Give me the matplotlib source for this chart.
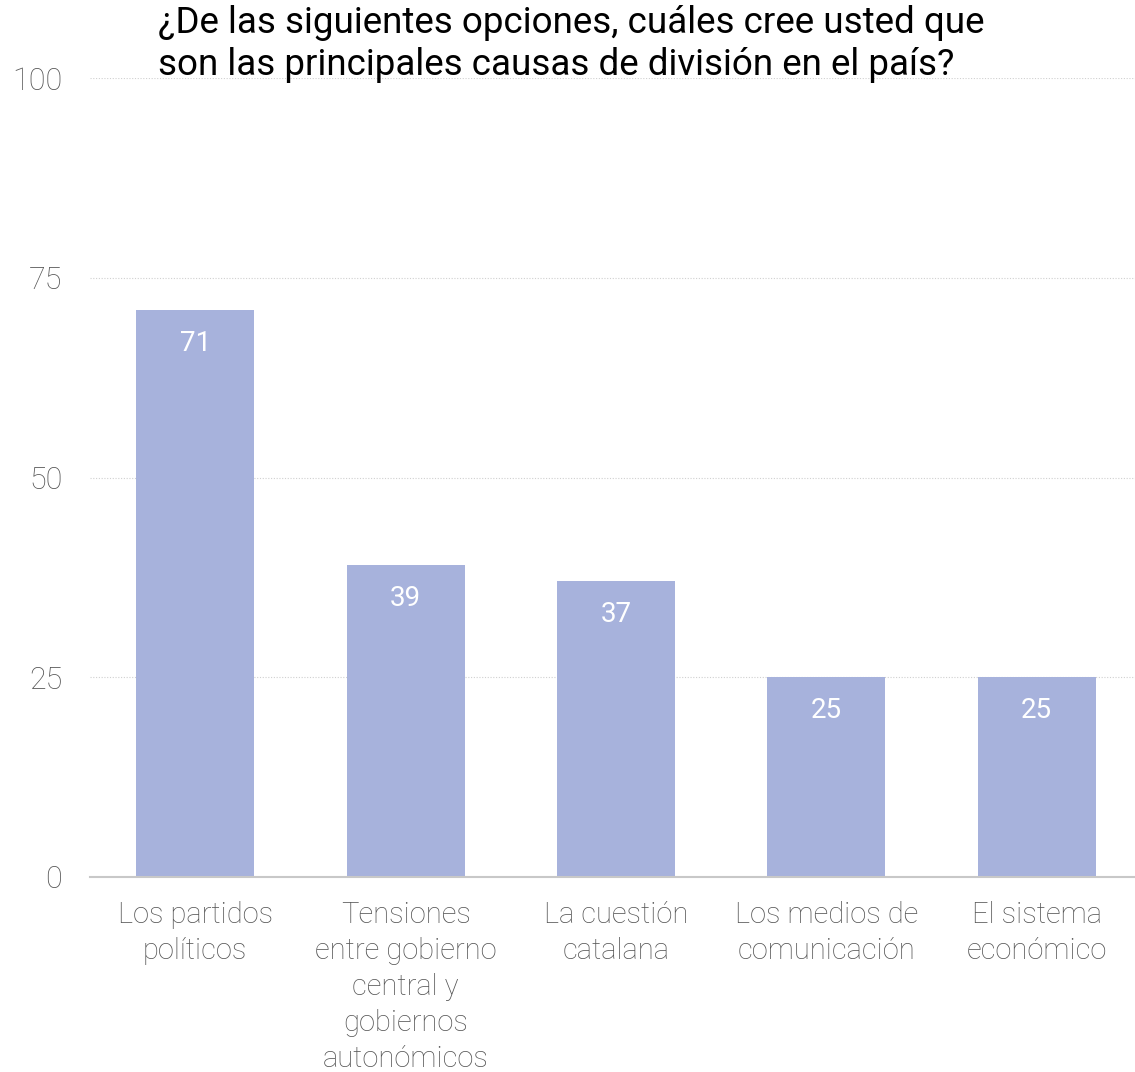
import matplotlib.pyplot as plt

# data
categories = ['Los partidos\npolíticos',
              'Tensiones\nentre gobierno\ncentral y\ngobiernos\nautonómicos',
              'La cuestión\ncatalana',
              'Los medios de\ncomunicación',
              'El sistema\neconómico']
values = [71, 39, 37, 25, 25]
yticks = [0, 25, 50, 75, 100]
title = '¿De las siguientes opciones, cuáles cree usted que\nson las principales causas de división en el país?'

BAR_COLOR = '#a7b2dc'
TEXT_GRAY = '#555555'

plt.rcParams['font.family'] = ['Roboto', 'DejaVu Sans']

fig = plt.figure(figsize=(11.35, 10.72), dpi=100)
ax = fig.add_axes([90 / 1135, 195 / 1072, 1052 / 1135, 799 / 1072])

x = range(len(values))
ax.bar(x, values, width=0.56, color=BAR_COLOR, zorder=2)

# value labels inside the top of each bar
for xi, v in zip(x, values):
    ax.text(xi, v - 4.2, str(v), ha='center', va='center', color='white',
            fontsize=20)

ax.set_xlim(-0.5, 4.5)
ax.set_ylim(0, 100)
ax.set_yticks(yticks)
ax.set_yticklabels([str(t) for t in yticks], fontsize=22, color=TEXT_GRAY,
                   fontweight='light')
ax.set_xticks(list(x))
ax.set_xticklabels(categories, fontsize=21, color=TEXT_GRAY, fontweight='light',
                   linespacing=1.37)
ax.tick_params(axis='both', length=0)
ax.tick_params(axis='y', pad=20)
ax.tick_params(axis='x', pad=17)

ax.grid(axis='y', color='#d0d0d0', linestyle=(0, (1, 1.5)), linewidth=0.8, zorder=0)
for s in ['top', 'right', 'left']:
    ax.spines[s].set_visible(False)
ax.spines['bottom'].set_color('#c8c8c8')
ax.spines['bottom'].set_linewidth(1.5)

fig.text(158 / 1135, 1 - 5 / 1072, title, ha='left', va='top', fontsize=26.5,
         color='black', linespacing=1.22)

fig.savefig('out.png', dpi=100)
